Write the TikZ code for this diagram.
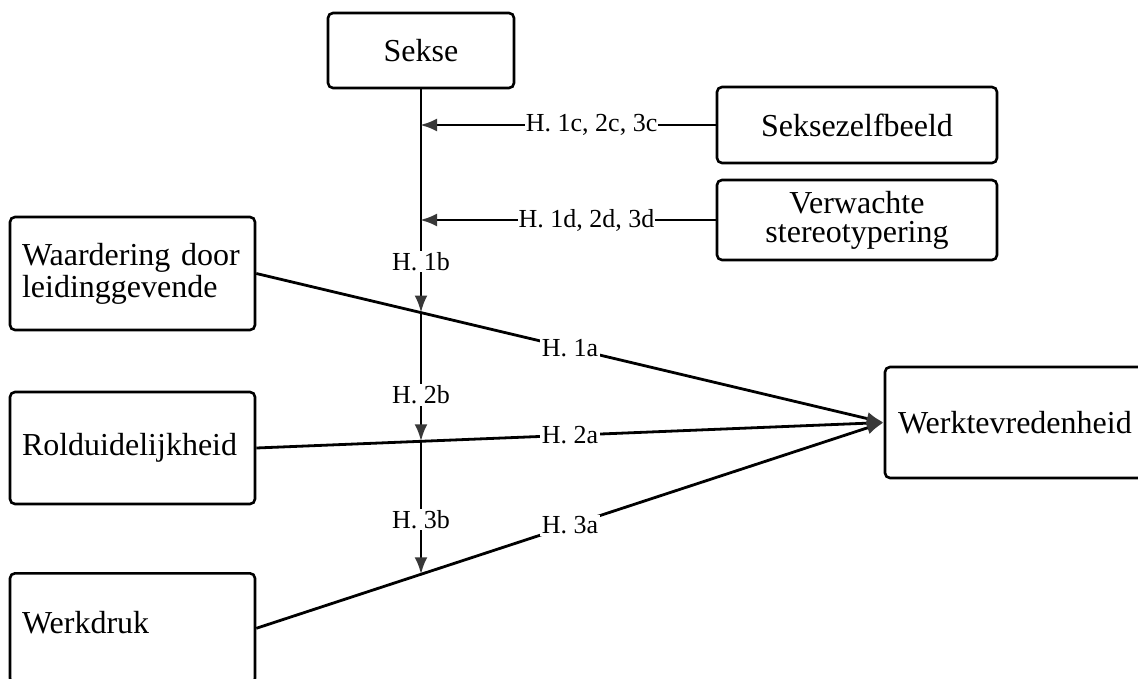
\documentclass[tikz,border=0pt]{standalone}
\usepackage{fontspec}
\setmainfont{Liberation Serif}
\usetikzlibrary{arrows.meta,calc,intersections}
\begin{document}
\begin{tikzpicture}[x=1pt,y=-1pt,
  box/.style={draw=black,line width=2.6pt,rounded corners=5pt,inner sep=0pt,
    font=\fontsize{32}{32}\selectfont},
  lbl/.style={fill=white,inner sep=1.5pt,font=\fontsize{26}{28}\selectfont},
  conn/.style={line width=2.8pt,draw=black},
  arr/.style={conn,-{Latex[length=17pt,width=13pt,fill=black!78,color=black!78]}}]
\useasboundingbox (0,0) rectangle (1138,679);
\clip (0,0) rectangle (1138,679);
% boxes
\node[box,minimum width=186pt,minimum height=75pt] (sekse) at (421,50.5) {Sekse};
\node[box,minimum width=280pt,minimum height=76pt] (sz) at (857,125) {Seksezelfbeeld};
\node[box,minimum width=280pt,minimum height=80pt,align=center] (vs) at (857,220) {Verwachte\\[-3pt]stereotypering};
\node[box,minimum width=245pt,minimum height=113pt,text width=221pt,align=left] (wa) at (132.5,273.5) {Waardering door\\leidinggevende};
\node[box,minimum width=245pt,minimum height=112pt,text width=221pt,align=left] (rd) at (132.5,448) {Rolduidelijkheid};
\node[box,minimum width=245pt,text height=60pt,text depth=50pt,text width=221pt,align=left,anchor=north] (wd) at (132.5,572) {Werkdruk};
\node[box,minimum width=265pt,minimum height=111pt,text width=239pt,align=left] (wt) at (1017.5,422.5) {Werktevredenheid};
% crossing points
\path[name path=vline] (sekse.south) -- ++(0,620);
\path[name path=l1] (wa.east) -- (wt.west);
\path[name path=l2] (rd.east) -- (wt.west);
\path[name path=l3] (wd.east) -- (wt.west);
\path[name intersections={of=vline and l1,by=c1}];
\path[name intersections={of=vline and l2,by=c2}];
\path[name intersections={of=vline and l3,by=c3}];
\coordinate (m1) at (sekse.south |- sz.west);
\coordinate (m2) at (sekse.south |- vs.west);
% direct effects
\draw[arr] (wa.east) -- node[lbl,pos=0.5] {H. 1a} (wt.west);
\draw[arr] (rd.east) -- node[lbl,pos=0.5] {H. 2a} (wt.west);
\draw[arr] (wd.east) -- node[lbl,pos=0.5] {H. 3a} (wt.west);
% moderation by sex
\draw[arr] (sekse.south) -- node[lbl,pos=0.77] {H. 1b} (c1);
\draw[arr] (c1) -- node[lbl,pos=0.64] {H. 2b} (c2);
\draw[arr] (c2) -- node[lbl,pos=0.59] {H. 3b} (c3);
% moderators
\draw[arr,shorten >=-1pt] (sz.west) -- node[lbl,pos=0.19,anchor=east,inner xsep=1pt] {H. 1c, 2c, 3c} (m1);
\draw[arr,shorten >=-1pt] (vs.west) -- node[lbl,pos=0.2,anchor=east,inner xsep=1pt] {H. 1d, 2d, 3d} (m2);
\end{tikzpicture}
\end{document}
